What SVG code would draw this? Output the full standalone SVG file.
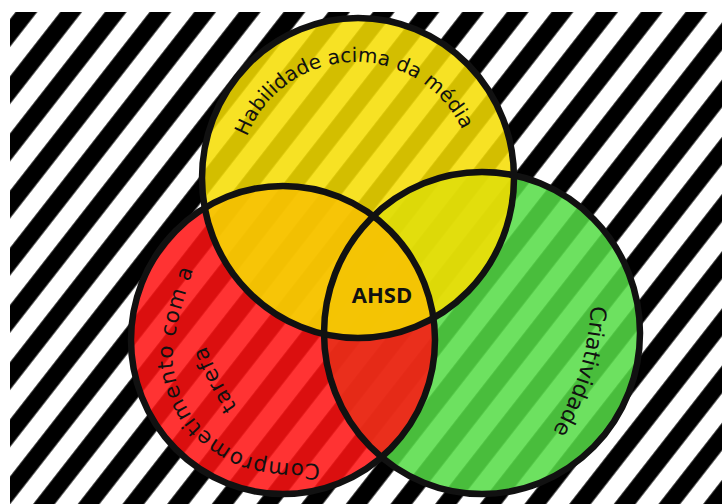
<svg xmlns="http://www.w3.org/2000/svg" width="722" height="504" viewBox="0 0 722 504">
<defs>
<style>
.lbl { font-family: "DejaVu Sans", "Liberation Sans", sans-serif; font-size: 22px; fill: #111; }
.lblY { font-size: 20px; }
.lblR { font-size: 21.5px; letter-spacing: 1px; }
.title { font-family: "Open Sans", "Liberation Sans", sans-serif; font-size: 22px; font-weight: 700; fill: #111; }
.fill { fill-opacity: 0.86; }
.outline { fill: none; stroke: #111; stroke-width: 6.5; }
</style>
<pattern id="stripes" patternUnits="userSpaceOnUse" x="8.7" y="0" width="35.2" height="40" patternTransform="rotate(38)">
<rect x="11" y="0" width="17" height="40" fill="#000"/>
</pattern>
<path id="pY" d="M 239,179 A 117 117 0 0 1 473,179"/>
<path id="pR1" d="M 320,464 C 307.8,463.3 290.3,463.8 277,462 C 263.7,460.2 252,458.3 240,453 C 228,447.7 214.3,438.5 205,430 C 195.7,421.5 189.3,412.8 184,402 C 178.7,391.2 174.3,377 173,365 C 171.7,353 174,341.7 176,330 C 178,318.3 181.7,306.7 185,295 C 188.3,283.3 192.5,271.2 196,260"/>
<path id="pR2" d="M 252,426 Q 216,384 198,322"/>
<path id="pG" d="M 591,296 Q 590.5,371 548,440"/>
</defs>
<g id="background">
<rect width="722" height="504" fill="#fff"/>
<rect x="10" y="12" width="712" height="492" fill="url(#stripes)"/>
</g>
<g id="connectors"/>
<g id="node-criatividade">
<ellipse class="fill" cx="482" cy="333" rx="158" ry="161" fill="#55dc46"/>
<text class="lbl"><textPath href="#pG" startOffset="50%" text-anchor="middle">Criatividade</textPath></text>
</g>
<g id="node-comprometimento">
<ellipse class="fill" cx="283" cy="340" rx="152" ry="154" fill="#ff1212"/>
<text class="lbl lblR"><textPath href="#pR1" startOffset="0">Comprometimento com a</textPath></text>
<text class="lbl lblR"><textPath href="#pR2" startOffset="50%" text-anchor="middle">tarefa</textPath></text>
</g>
<g id="node-habilidade">
<ellipse class="fill" cx="358" cy="178" rx="156" ry="160" fill="#f6dd00"/>
<text class="lbl lblY"><textPath href="#pY" startOffset="49%" text-anchor="middle">Habilidade acima da média</textPath></text>
</g>
<g id="outlines">
<ellipse class="outline" cx="482" cy="333" rx="158" ry="161"/>
<ellipse class="outline" cx="283" cy="340" rx="152" ry="154"/>
<ellipse class="outline" cx="358" cy="178" rx="156" ry="160"/>
</g>
<g id="node-ahsd">
<text class="title" x="382" y="303" text-anchor="middle">AHSD</text>
</g>
</svg>
